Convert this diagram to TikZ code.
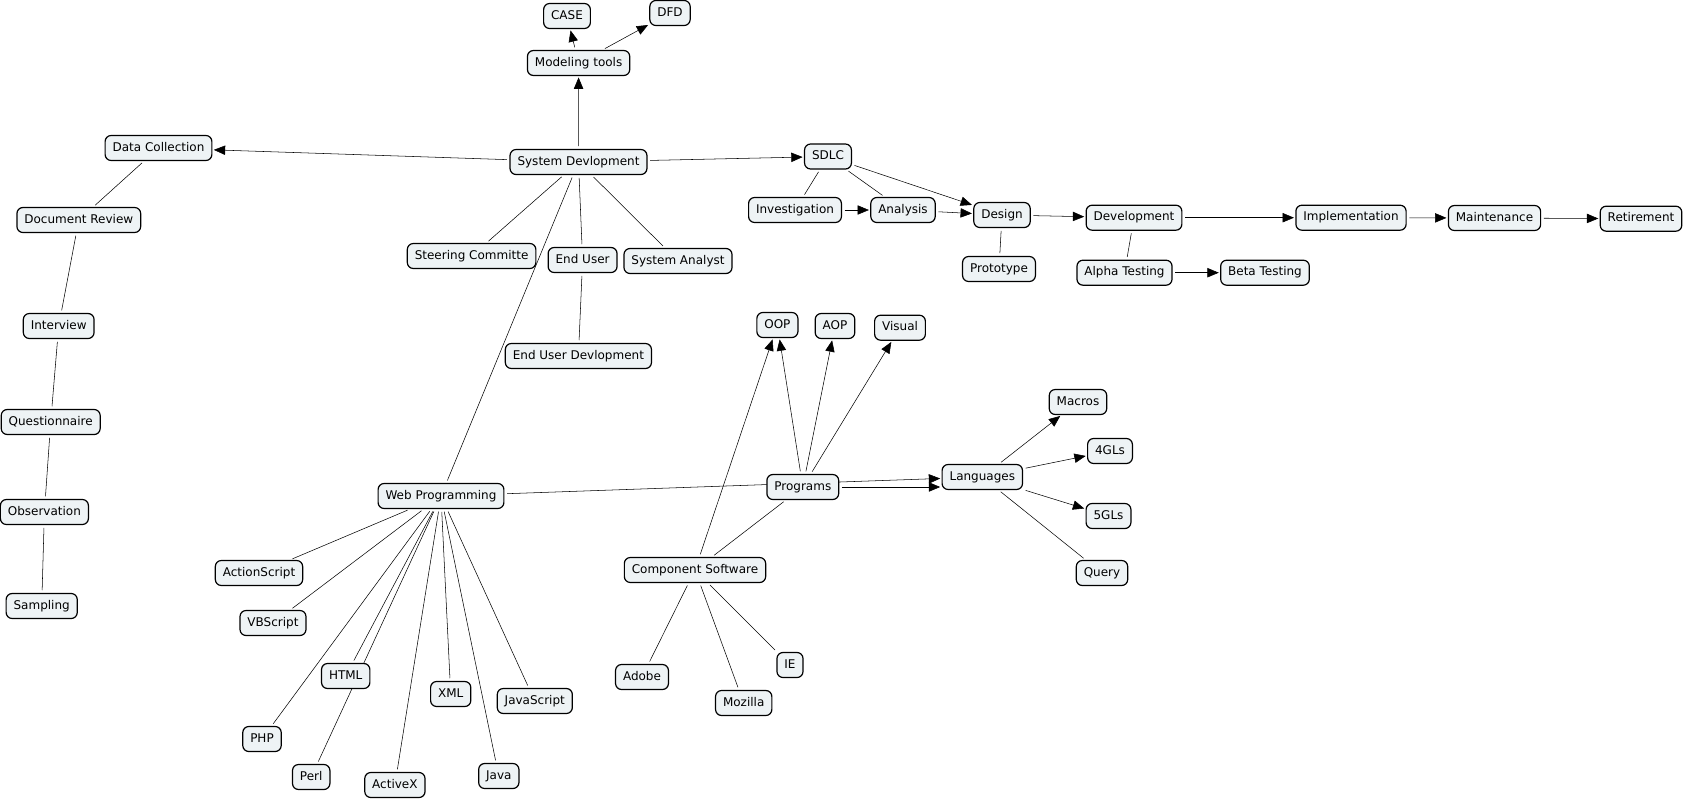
\documentclass[tikz,border=0pt]{standalone}
\usepackage{fontspec}
\setmainfont{DejaVu Sans}
\usetikzlibrary{arrows.meta,backgrounds}

\definecolor{conceptfill}{RGB}{238,243,245}

\tikzset{every picture/.style={line width=0.9pt}}
\tikzset{
  concept/.style={draw, fill=conceptfill, rounded corners=4.5pt, inner xsep=5.6pt, inner ysep=0pt,
    minimum height=18.75pt, text height=6.8pt, text depth=1.9pt, font=\fontsize{9}{10}\selectfont},
  link/.style={shorten <=2pt, shorten >=2pt},
  linkto/.style={-{Triangle[length=8.5pt,width=7pt]}, shorten <=2pt, shorten >=1pt}
}

\begin{document}
\begin{tikzpicture}[x=0.75pt,y=0.75pt,yscale=-1,xscale=1]
\useasboundingbox (0,0) rectangle (1685,800);

%Concepts: modeling tools
\node[concept] (case) at (567,16) {CASE};
\node[concept] (dfd) at (670,13) {DFD};
\node[concept] (model) at (578.6,63) {Modeling tools};
\node[concept] (sysdev) at (578.5,162) {System Devlopment};

%Concepts: data collection
\node[concept] (datacol) at (158.5,148) {Data Collection};
\node[concept] (docrev) at (78.8,220) {Document Review};
\node[concept] (interview) at (58.7,326) {Interview};
\node[concept] (quest) at (50.7,422) {Questionnaire};
\node[concept] (observ) at (44.4,512) {Observation};
\node[concept] (sampling) at (41.7,606) {Sampling};

%Concepts: people
\node[concept] (steering) at (471.6,256) {Steering Committe};
\node[concept] (enduser) at (582.6,260) {End User};
\node[concept] (sysan) at (678,261) {System Analyst};
\node[concept] (eudev) at (578.4,356) {End User Devlopment};

%Concepts: SDLC
\node[concept] (sdlc) at (828,156.5) {SDLC};
\node[concept] (invest) at (795,210) {Investigation};
\node[concept] (analysis) at (903,210) {Analysis};
\node[concept] (design) at (1002,215) {Design};
\node[concept] (develop) at (1134,217.7) {Development};
\node[concept] (implem) at (1351,217.7) {Implementation};
\node[concept] (maint) at (1494.5,218) {Maintenance};
\node[concept] (retire) at (1641,218.7) {Retirement};
\node[concept] (proto) at (999,269) {Prototype};
\node[concept] (alpha) at (1124.5,272.7) {Alpha Testing};
\node[concept] (beta) at (1265,272.7) {Beta Testing};

%Concepts: programs and languages
\node[concept] (oop) at (777.4,325) {OOP};
\node[concept] (aop) at (835,326) {AOP};
\node[concept] (visual) at (900,327.7) {Visual};
\node[concept] (prog) at (802.8,487) {Programs};
\node[concept] (lang) at (982.3,477) {Languages};
\node[concept] (macros) at (1078,402) {Macros};
\node[concept] (fourgl) at (1110,451) {4GLs};
\node[concept] (fivegl) at (1108.5,516) {5GLs};
\node[concept] (query) at (1102,573) {Query};

%Concepts: component software
\node[concept] (compsw) at (695,570) {Component Software};
\node[concept] (ie) at (790,665) {IE};
\node[concept] (mozilla) at (743.7,703) {Mozilla};
\node[concept] (adobe) at (642,677) {Adobe};

%Concepts: web programming
\node[concept] (webprog) at (441,496) {Web Programming};
\node[concept] (actscr) at (259,573) {ActionScript};
\node[concept] (vbscr) at (273,623) {VBScript};
\node[concept] (html) at (345.7,676) {HTML};
\node[concept] (xml) at (450.7,694) {XML};
\node[concept] (jscr) at (534.8,701) {JavaScript};
\node[concept] (php) at (262,739) {PHP};
\node[concept] (perl) at (311.2,777) {Perl};
\node[concept] (activex) at (394.9,785) {ActiveX};
\node[concept] (java) at (498.8,776) {Java};

\begin{scope}[on background layer]
%Links from System Devlopment
\draw[linkto] (sysdev) -- (model);
\draw[linkto] (model) -- (case);
\draw[linkto] (model) -- (dfd);
\draw[linkto] (sysdev) -- (datacol);
\draw[linkto] (sysdev) -- (sdlc);
\draw[link] (sysdev) -- (steering);
\draw[link] (sysdev) -- (enduser);
\draw[link] (sysdev) -- (sysan);
\draw[link] (sysdev) -- (webprog);
\draw[link] (enduser) -- (eudev);

%Links: data collection chain
\draw[link] (datacol) -- (docrev);
\draw[link] (docrev) -- (interview);
\draw[link] (interview) -- (quest);
\draw[link] (quest) -- (observ);
\draw[link] (observ) -- (sampling);

%Links: SDLC phases
\draw[link] (sdlc) -- (invest);
\draw[link] (sdlc) -- (analysis);
\draw[linkto] (sdlc) -- (design);
\draw[linkto] (invest) -- (analysis);
\draw[linkto] (analysis) -- (design);
\draw[linkto] (design) -- (develop);
\draw[linkto] (develop) -- (implem);
\draw[linkto] (implem) -- (maint);
\draw[linkto] (maint) -- (retire);
\draw[link] (design) -- (proto);
\draw[link] (develop) -- (alpha);
\draw[linkto] (alpha) -- (beta);

%Links: programs
\draw[linkto] (webprog) -- (lang);
\draw[linkto] (prog) -- (prog -| lang.west);
\draw[linkto] (prog) -- (oop);
\draw[linkto] (prog) -- (aop);
\draw[linkto] (prog) -- (visual);
\draw[link] (prog) -- (compsw);
\draw[linkto] (compsw) -- (oop);
\draw[linkto] (lang) -- (macros);
\draw[linkto] (lang) -- (fourgl);
\draw[linkto] (lang) -- (fivegl);
\draw[link] (lang) -- (query);
\draw[link] (compsw) -- (adobe);
\draw[link] (compsw) -- (mozilla);
\draw[link] (compsw) -- (ie);

%Links: web programming
\draw[link] (webprog) -- (actscr);
\draw[link] (webprog) -- (vbscr);
\draw[link] (webprog) -- (php);
\draw[link] (webprog) -- (html);
\draw[link] (webprog) -- (perl);
\draw[link] (webprog) -- (activex);
\draw[link] (webprog) -- (xml);
\draw[link] (webprog) -- (java);
\draw[link] (webprog) -- (jscr);
\end{scope}

\end{tikzpicture}
\end{document}
